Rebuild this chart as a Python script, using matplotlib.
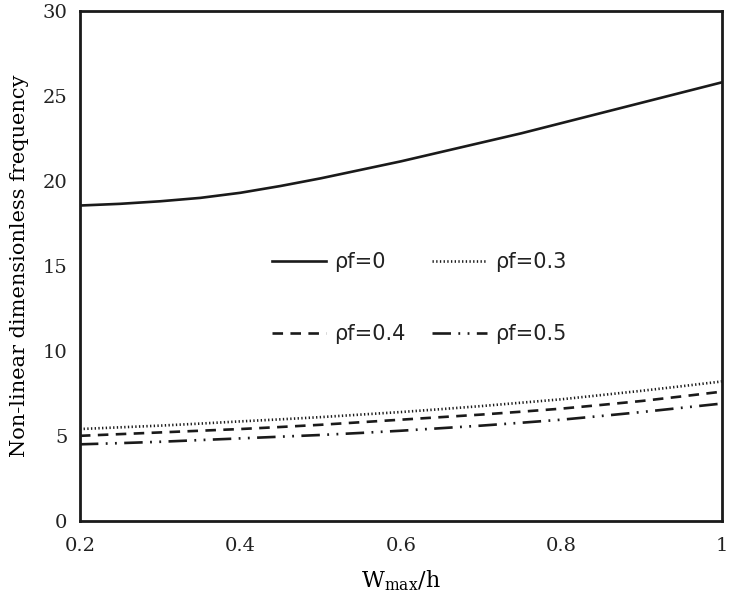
import matplotlib
matplotlib.use("Agg")
import matplotlib.pyplot as plt

x = [0.2, 0.25, 0.3, 0.35, 0.4, 0.45, 0.5, 0.55, 0.6, 0.65, 0.7, 0.75, 0.8, 0.85, 0.9, 0.95, 1.0]
rho0 = [18.55, 18.65, 18.8, 19.0, 19.3, 19.7, 20.15, 20.65, 21.15, 21.7, 22.25, 22.8, 23.4, 24.0, 24.6, 25.2, 25.8]
rho03 = [5.4, 5.5, 5.6, 5.72, 5.85, 5.97, 6.1, 6.25, 6.4, 6.57, 6.75, 6.95, 7.15, 7.4, 7.65, 7.92, 8.2]
rho04 = [5.0, 5.1, 5.2, 5.3, 5.4, 5.52, 5.65, 5.8, 5.95, 6.1, 6.25, 6.42, 6.6, 6.82, 7.05, 7.32, 7.6]
rho05 = [4.5, 4.57, 4.65, 4.75, 4.85, 4.95, 5.05, 5.17, 5.3, 5.45, 5.6, 5.77, 5.95, 6.17, 6.4, 6.65, 6.9]
labels = ["ρf=0", "ρf=0.3", "ρf=0.4", "ρf=0.5"]
xticks = [0.2, 0.4, 0.6, 0.8, 1.0]
xticklabels = ["0.2", "0.4", "0.6", "0.8", "1"]
yticks = [0, 5, 10, 15, 20, 25, 30]

plt.rcParams['mathtext.fontset'] = 'dejavuserif'
fig = plt.figure(figsize=(7.33, 6.07), dpi=100)
ax = fig.add_axes([0.109, 0.142, 0.876, 0.840])

lw = 1.9
c = '#1a1a1a'
styles = ['-', (0, (0.5, 0.9)), (0, (4, 2.8)), (0, (7, 2.8, 0.7, 2.8, 0.7, 2.8))]
series = [rho0, rho03, rho04, rho05]
lines = []
for s, st, lab in zip(series, styles, labels):
    ln, = ax.plot(x, s, color=c, lw=lw, ls=st, label=lab)
    lines.append(ln)

ax.set_xlim(0.2, 1.0)
ax.set_ylim(0, 30)
ax.set_xticks(xticks)
ax.set_xticklabels(xticklabels)
ax.set_yticks(yticks)
ax.tick_params(length=0, labelsize=14)
ax.tick_params(axis='x', pad=12)
ax.tick_params(axis='y', pad=9)
for lab in ax.get_xticklabels() + ax.get_yticklabels():
    lab.set_family('DejaVu Serif')
    lab.set_color('#222222')
for s in ax.spines.values():
    s.set_linewidth(2.0)
    s.set_color(c)

ax.set_xlabel(r'W$_{\mathrm{max}}$/h', family='DejaVu Serif', fontsize=16, labelpad=9)
ax.set_ylabel('Non-linear dimensionless frequency', family='DejaVu Serif', fontsize=15, labelpad=10)

order = [0, 2, 1, 3]
leg = ax.legend([lines[i] for i in order], [labels[i] for i in order],
                ncol=2, frameon=False, loc='center', bbox_to_anchor=(0.528, 0.437),
                labelspacing=2.5, handlelength=2.6, columnspacing=1.3, handletextpad=0.4,
                prop={'family': 'DejaVu Sans', 'size': 15})
for t in leg.get_texts():
    t.set_color('#222222')

fig.savefig('out.png', dpi=100)
